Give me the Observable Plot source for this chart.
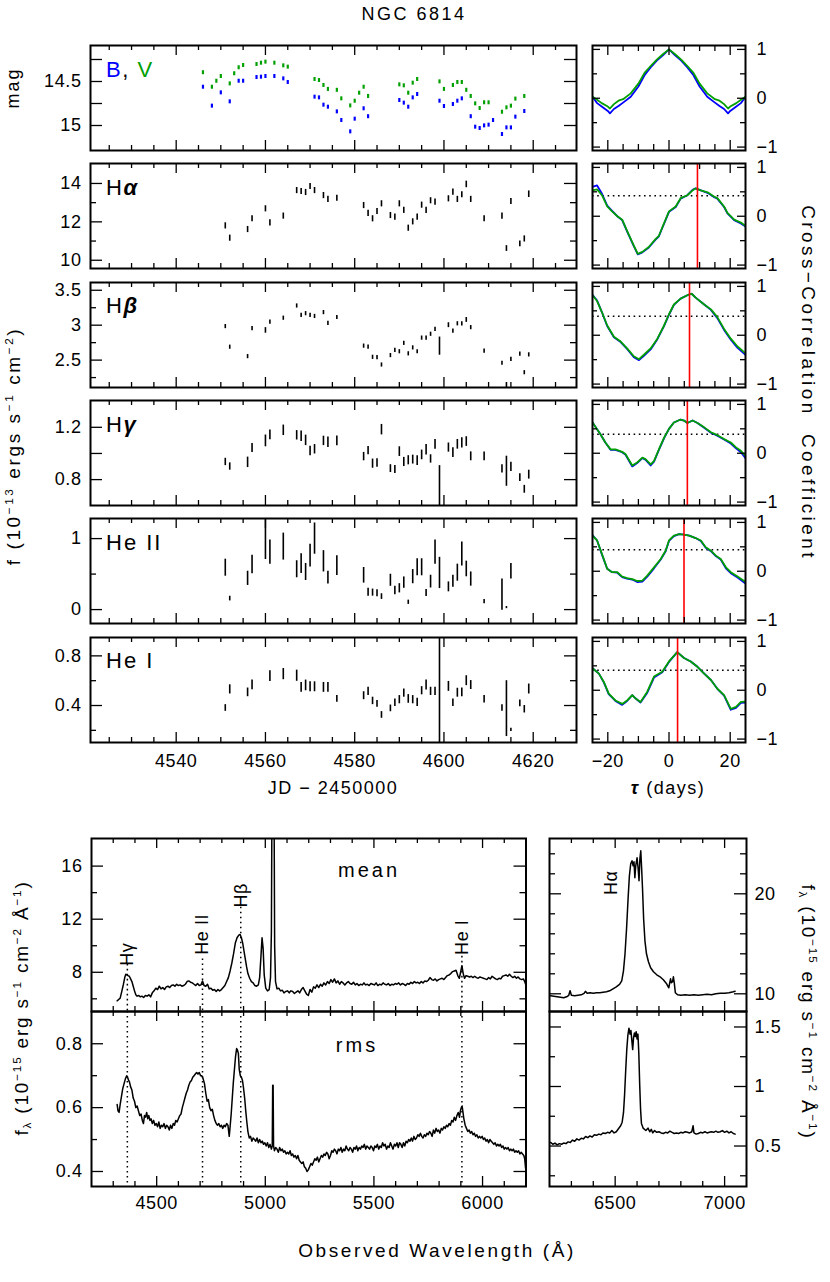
<!DOCTYPE html>
<html><head><meta charset="utf-8">
<script src="https://cdn.jsdelivr.net/npm/d3@7"></script>
<script src="https://cdn.jsdelivr.net/npm/@observablehq/plot@0.6"></script>
<style>
body{margin:0;background:#fff;}
#root{position:relative;width:830px;height:1282px;overflow:hidden;font-family:"Liberation Sans",Arial,sans-serif;color:#000;background:#fff;}
.t{position:absolute;white-space:nowrap;line-height:1;}
sup{font-size:0.62em;vertical-align:0.55em;}
sub{font-size:0.62em;vertical-align:-0.25em;}
</style></head><body><div id="root"></div>
<script>
// ---------------- DATA ----------------
const magV = [[4546,14.40],[4548,14.565],[4549,14.497],[4550,14.443],[4552,14.527],[4553,14.412],[4554,14.344],[4555,14.318],[4558,14.307],[4559,14.292],[4560,14.28],[4562,14.292],[4564,14.322],[4565,14.337],[4571,14.477],[4572,14.489],[4573,14.545],[4574,14.59],[4576,14.60],[4577,14.697],[4579,14.777],[4580,14.724],[4581,14.633],[4582,14.565],[4583,14.67],[4590,14.538],[4591,14.549],[4592,14.633],[4593,14.519],[4594,14.477],[4599,14.504],[4600,14.59],[4602,14.545],[4603,14.511],[4604,14.511],[4605,14.60],[4606,14.67],[4607,14.754],[4608,14.807],[4609,14.742],[4610,14.742],[4613,14.849],[4614,14.799],[4615,14.78],[4616,14.70],[4618,14.67]];
const magB = [[4546,14.565],[4548,14.78],[4550,14.629],[4552,14.731],[4554,14.497],[4555,14.497],[4558,14.455],[4559,14.451],[4560,14.443],[4562,14.443],[4564,14.47],[4565,14.511],[4571,14.678],[4572,14.686],[4573,14.769],[4574,14.792],[4576,14.845],[4577,14.943],[4579,15.072],[4580,14.928],[4582,14.81],[4583,14.90],[4590,14.716],[4591,14.746],[4592,14.792],[4593,14.686],[4594,14.648],[4599,14.724],[4600,14.784],[4602,14.761],[4603,14.724],[4604,14.697],[4606,14.90],[4607,15.019],[4608,15.034],[4609,15.004],[4610,14.996],[4611,14.943],[4613,15.102],[4614,15.027],[4615,15.027],[4616,14.905],[4618,14.841]];

// [JD-2450000, flux, error]
const lcHa = [[4551,11.79,0.16],[4552,11.15,0.16],[4556,11.6,0.16],[4557,12.16,0.16],[4560,12.68,0.16],[4561,11.95,0.16],[4564,12.3,0.16],[4567,13.63,0.16],[4568,13.58,0.16],[4569,13.53,0.16],[4570,13.84,0.16],[4571,13.63,0.16],[4573,13.37,0.16],[4574,13.17,0.16],[4576,13.23,0.16],[4582,12.85,0.16],[4583,12.44,0.16],[4584,12.16,0.16],[4585,12.54,0.16],[4586,12.94,0.16],[4588,12.33,0.16],[4589,12.25,0.16],[4590,12.94,0.16],[4591,12.6,0.16],[4592,11.67,0.16],[4593,12.0,0.16],[4594,12.25,0.16],[4595,12.87,0.16],[4596,12.6,0.16],[4597,13.1,0.16],[4598,13.03,0.16],[4601,13.2,0.16],[4602,13.55,0.16],[4603,13.17,0.16],[4604,13.41,0.16],[4605,13.95,0.17],[4606,13.17,0.16],[4609,12.16,0.16],[4613,12.3,0.16],[4614,10.61,0.15],[4615,13.06,0.16],[4617,10.85,0.15],[4618,11.11,0.16],[4619,13.44,0.17]];
const lcHb = [[4551,2.98,0.03],[4552,2.685,0.03],[4556,2.55,0.03],[4557,2.95,0.03],[4560,2.925,0.04],[4561,3.045,0.03],[4564,3.10,0.03],[4567,3.275,0.03],[4568,3.14,0.03],[4569,3.165,0.03],[4570,3.14,0.03],[4571,3.125,0.03],[4573,3.18,0.03],[4574,3.025,0.03],[4576,3.11,0.03],[4582,2.70,0.03],[4583,2.685,0.03],[4584,2.54,0.03],[4585,2.535,0.03],[4586,2.43,0.03],[4588,2.565,0.03],[4589,2.64,0.03],[4590,2.62,0.03],[4591,2.74,0.03],[4592,2.59,0.03],[4593,2.675,0.03],[4594,2.62,0.03],[4595,2.815,0.03],[4596,2.815,0.03],[4597,2.87,0.03],[4598,2.94,0.03],[4599,2.70,0.13],[4601,3.0,0.035],[4602,2.915,0.03],[4603,3.02,0.03],[4604,3.02,0.03],[4605,3.075,0.035],[4606,2.965,0.03],[4609,2.63,0.03],[4613,2.455,0.03],[4614,2.14,0.04],[4615,2.51,0.03],[4617,2.585,0.03],[4618,2.32,0.03],[4619,2.575,0.03]];
const lcHg = [[4551,0.935,0.028],[4552,0.90,0.028],[4556,0.932,0.04],[4557,1.042,0.035],[4560,1.096,0.045],[4561,1.142,0.038],[4564,1.177,0.04],[4567,1.139,0.036],[4568,1.131,0.04],[4569,1.10,0.04],[4570,1.019,0.036],[4571,1.032,0.036],[4573,1.096,0.036],[4574,1.085,0.04],[4576,1.096,0.037],[4582,0.976,0.032],[4583,1.022,0.032],[4584,0.922,0.035],[4585,0.927,0.032],[4586,1.182,0.04],[4588,0.884,0.03],[4589,0.877,0.03],[4590,1.014,0.037],[4591,0.935,0.035],[4592,0.948,0.035],[4593,0.953,0.034],[4594,0.945,0.038],[4595,0.989,0.037],[4596,1.029,0.04],[4597,0.958,0.032],[4598,1.07,0.037],[4599,0.754,0.153],[4601,1.045,0.035],[4602,1.007,0.037],[4603,1.07,0.037],[4604,1.081,0.04],[4605,1.091,0.037],[4606,0.978,0.034],[4609,0.978,0.034],[4613,0.882,0.032],[4614,0.864,0.115],[4615,0.897,0.035],[4617,0.815,0.03],[4618,0.726,0.03],[4619,0.838,0.034]];
const lcHeII = [[4551,0.59,0.12],[4552,0.155,0.033],[4556,0.44,0.10],[4557,0.634,0.13],[4560,0.995,0.29],[4561,0.81,0.17],[4564,0.887,0.19],[4567,0.568,0.12],[4568,0.648,0.14],[4569,0.53,0.12],[4570,0.76,0.16],[4571,1.0,0.22],[4573,0.68,0.15],[4574,0.45,0.09],[4576,0.62,0.14],[4582,0.483,0.11],[4583,0.244,0.055],[4584,0.239,0.05],[4585,0.23,0.05],[4586,0.183,0.04],[4588,0.413,0.085],[4589,0.268,0.06],[4590,0.30,0.065],[4591,0.38,0.08],[4592,0.103,0.03],[4593,0.464,0.10],[4594,0.596,0.12],[4595,0.596,0.12],[4596,0.234,0.05],[4597,0.394,0.09],[4598,0.81,0.17],[4599,0.516,0.22],[4601,0.32,0.07],[4602,0.40,0.085],[4603,0.52,0.12],[4604,0.783,0.17],[4605,0.572,0.11],[4606,0.43,0.10],[4609,0.113,0.03],[4613,0.21,0.22],[4614,0.028,0.015],[4615,0.54,0.11]];
const lcHeI = [[4551,0.38,0.027],[4552,0.53,0.037],[4556,0.506,0.035],[4557,0.567,0.039],[4561,0.637,0.043],[4564,0.653,0.045],[4567,0.64,0.045],[4568,0.546,0.04],[4569,0.562,0.043],[4570,0.551,0.04],[4571,0.551,0.04],[4573,0.546,0.04],[4574,0.546,0.04],[4576,0.453,0.027],[4582,0.479,0.032],[4583,0.514,0.033],[4584,0.437,0.03],[4585,0.413,0.027],[4586,0.324,0.027],[4588,0.377,0.027],[4589,0.423,0.03],[4590,0.447,0.033],[4591,0.50,0.033],[4592,0.453,0.035],[4593,0.447,0.033],[4594,0.425,0.033],[4595,0.519,0.033],[4596,0.565,0.04],[4597,0.514,0.033],[4598,0.514,0.033],[4599,0.52,0.6],[4601,0.554,0.04],[4602,0.423,0.03],[4603,0.503,0.036],[4604,0.506,0.035],[4605,0.60,0.04],[4606,0.565,0.036],[4609,0.45,0.03],[4613,0.38,0.027],[4614,0.375,0.225],[4615,0.204,0.013],[4617,0.417,0.027],[4618,0.37,0.03],[4619,0.533,0.04]];

// [lag (days), r (B or blue), r (V or green)]
const acfBV = [[-25,0.03,0.03],[-23.5,-0.10,-0.03],[-22,-0.17,-0.10],[-20,-0.26,-0.17],[-19.3,-0.31,-0.21],[-18,-0.22,-0.12],[-16.5,-0.16,-0.05],[-15,-0.09,-0.02],[-12.5,0.03,0.10],[-10,0.24,0.30],[-8,0.47,0.52],[-6,0.63,0.66],[-4,0.77,0.79],[-2,0.88,0.90],[0,1.0,1.0],[2,0.88,0.90],[4,0.77,0.79],[6,0.63,0.66],[8,0.47,0.52],[10,0.24,0.30],[12.5,0.03,0.10],[15,-0.09,-0.02],[16.5,-0.16,-0.05],[18,-0.22,-0.12],[19.3,-0.31,-0.21],[20,-0.26,-0.17],[22,-0.17,-0.10],[23.5,-0.10,-0.03],[25,0.03,0.03]];
const ccfHa = [[-25,0.60,0.53],[-23.5,0.63,0.55],[-21.9,0.46,0.43],[-20.2,0.22,0.20],[-18.6,0.11,0.10],[-16.9,0.00,0.00],[-15.3,-0.08,-0.07],[-13.7,-0.31,-0.30],[-11.5,-0.61,-0.60],[-10.2,-0.78,-0.77],[-8.7,-0.74,-0.73],[-6.6,-0.64,-0.63],[-4.4,-0.48,-0.47],[-3.3,-0.41,-0.40],[-2.2,-0.24,-0.23],[0,0.09,0.10],[2.2,0.19,0.20],[3.8,0.36,0.37],[6.0,0.43,0.43],[7.7,0.54,0.53],[8.7,0.57,0.57],[10.4,0.53,0.53],[12.6,0.48,0.49],[14.8,0.39,0.40],[15.8,0.36,0.37],[18.0,0.19,0.20],[19.1,0.06,0.07],[21.3,-0.08,-0.07],[23.5,-0.15,-0.13],[25,-0.21,-0.20]];
const ccfHb = [[-25,0.83,0.82],[-23.5,0.71,0.70],[-21.9,0.47,0.47],[-20.2,0.19,0.20],[-18,-0.04,-0.03],[-15.8,-0.14,-0.13],[-13.7,-0.28,-0.27],[-11.5,-0.45,-0.43],[-9.8,-0.51,-0.49],[-8.2,-0.42,-0.40],[-6,-0.29,-0.27],[-3.8,-0.08,-0.07],[-1.6,0.19,0.20],[0,0.42,0.43],[1.6,0.62,0.63],[3.8,0.75,0.75],[6,0.82,0.82],[7.4,0.85,0.85],[8.7,0.77,0.77],[11.5,0.63,0.63],[13.7,0.52,0.53],[15.8,0.35,0.37],[18,0.11,0.13],[20.2,-0.09,-0.07],[22.4,-0.26,-0.23],[25,-0.40,-0.37]];
const ccfHg = [[-25,0.63,0.63],[-22.4,0.39,0.39],[-20.8,0.22,0.22],[-19.1,0.07,0.08],[-17.5,0.07,0.08],[-15.3,0.02,0.03],[-14.2,-0.03,-0.02],[-12.0,-0.27,-0.25],[-10.4,-0.20,-0.19],[-8.7,-0.10,-0.09],[-7.7,-0.13,-0.12],[-6.0,-0.25,-0.23],[-4.9,-0.17,-0.16],[-3.3,0.07,0.08],[-1.6,0.31,0.32],[0,0.50,0.50],[1.6,0.63,0.63],[3.8,0.69,0.69],[4.9,0.67,0.67],[6.0,0.62,0.62],[7.7,0.67,0.67],[9.3,0.62,0.62],[11.5,0.52,0.53],[13.7,0.42,0.43],[15.8,0.36,0.37],[18.0,0.28,0.29],[20.2,0.20,0.22],[21.9,0.10,0.12],[23.5,0.02,0.05],[25,-0.10,-0.06]];
const ccfHeII = [[-25,0.74,0.73],[-23.5,0.63,0.63],[-21.9,0.34,0.35],[-20.2,0.05,0.05],[-18.6,-0.02,-0.02],[-16.9,-0.03,-0.02],[-15.3,-0.12,-0.11],[-13.7,-0.15,-0.14],[-12,-0.17,-0.16],[-10.4,-0.22,-0.20],[-8.7,-0.21,-0.19],[-7.1,-0.11,-0.09],[-4.9,0.06,0.08],[-2.7,0.24,0.25],[-1.1,0.41,0.42],[0,0.62,0.63],[1.6,0.72,0.73],[3.3,0.76,0.76],[4.9,0.75,0.75],[6.6,0.73,0.73],[8.7,0.68,0.68],[10.4,0.62,0.63],[12,0.48,0.49],[13.7,0.41,0.42],[15.3,0.31,0.32],[16.9,0.24,0.25],[18.6,0.06,0.08],[20.2,-0.04,-0.02],[22.4,-0.13,-0.11],[25,-0.25,-0.22]];
const ccfHeI = [[-25,0.45,0.45],[-22.9,0.34,0.34],[-21.3,0.16,0.17],[-19.7,-0.08,-0.07],[-17.5,-0.22,-0.21],[-15.3,-0.30,-0.28],[-13.7,-0.22,-0.21],[-12,-0.10,-0.10],[-10.9,-0.17,-0.17],[-9.3,-0.25,-0.24],[-7.1,-0.05,-0.03],[-4.9,0.26,0.28],[-2.2,0.37,0.38],[0,0.58,0.59],[2.7,0.78,0.78],[4.9,0.66,0.66],[7.1,0.59,0.59],[9.3,0.48,0.48],[11.5,0.34,0.34],[13.7,0.21,0.21],[15.8,0.03,0.03],[18,-0.11,-0.10],[20.2,-0.40,-0.38],[21.9,-0.36,-0.34],[23.5,-0.26,-0.24],[25,-0.25,-0.23]];
// CCF centroid lags (red lines) and 0.8 r_max thresholds (dotted lines): Hα, Hβ, Hγ, He II, He I
const lagCent = [9.3, 6.7, 6.0, 4.9, 2.8];
const rThresh = [0.42, 0.39, 0.39, 0.44, 0.41];

// spectra: [observed wavelength (Å), flux]
const meanSpec = [[4318,5.85],[4325,5.95],[4332,6.05],[4340,6.6],[4347,7.1],[4353,7.6],[4358,7.85],[4363,7.8],[4368,7.75],[4374,7.7],[4380,7.5],[4386,7.3],[4392,6.95],[4398,6.6],[4404,6.3],[4410,6.2],[4418,6.25],[4425,6.15],[4432,6.2],[4440,6.1],[4448,6.25],[4456,6.2],[4464,6.3],[4472,6.15],[4480,6.45],[4488,6.6],[4496,6.8],[4504,6.7],[4512,6.95],[4520,6.75],[4528,6.85],[4536,6.7],[4544,6.9],[4552,6.95],[4560,6.85],[4568,7.0],[4576,7.05],[4584,6.95],[4592,7.1],[4600,7.0],[4608,7.05],[4616,6.95],[4624,7.0],[4632,7.1],[4640,7.3],[4648,7.35],[4656,7.25],[4664,7.2],[4672,7.1],[4680,7.0],[4688,7.15],[4696,7.0],[4704,7.05],[4711,7.35],[4718,7.0],[4726,6.95],[4734,7.1],[4742,6.75],[4750,6.8],[4758,6.65],[4766,6.7],[4774,6.55],[4782,6.7],[4790,6.6],[4798,6.7],[4806,6.85],[4814,7.0],[4822,7.3],[4830,7.6],[4838,8.1],[4846,8.7],[4854,9.4],[4862,10.2],[4870,10.6],[4878,10.8],[4884,10.85],[4890,10.6],[4896,10.2],[4902,9.6],[4908,9.0],[4914,8.4],[4920,7.9],[4928,7.55],[4936,7.3],[4944,7.2],[4952,7.0],[4960,6.95],[4968,7.05],[4974,7.6],[4980,9.2],[4985,10.6],[4990,9.8],[4995,7.8],[5002,6.8],[5010,6.6],[5018,6.7],[5024,7.6],[5028,11],[5031,22],[5034,40],[5037,40],[5040,22],[5043,10],[5047,7.3],[5054,6.75],[5062,6.8],[5070,6.6],[5078,6.65],[5086,6.45],[5094,6.55],[5102,6.6],[5110,6.45],[5118,6.6],[5126,6.55],[5134,6.4],[5142,6.5],[5150,6.6],[5158,6.45],[5166,6.7],[5174,6.85],[5182,6.6],[5190,6.35],[5198,6.25],[5206,6.7],[5214,6.5],[5222,6.9],[5230,6.8],[5238,7.05],[5246,6.85],[5254,7.1],[5262,6.95],[5270,7.2],[5278,7.05],[5286,7.3],[5294,7.15],[5302,7.45],[5310,7.25],[5318,7.5],[5326,7.2],[5334,7.35],[5342,7.1],[5350,7.3],[5358,7.2],[5366,7.05],[5374,7.2],[5382,7.3],[5390,7.15],[5398,7.1],[5406,7.25],[5414,7.05],[5422,7.15],[5430,7.0],[5438,7.1],[5446,7.05],[5454,7.2],[5462,7.05],[5470,7.1],[5478,7.0],[5486,7.15],[5494,7.1],[5502,7.05],[5510,7.2],[5518,7.0],[5526,7.1],[5534,7.05],[5542,7.2],[5550,7.1],[5558,7.05],[5566,7.15],[5574,7.0],[5582,7.1],[5590,7.05],[5598,7.15],[5606,7.1],[5614,7.2],[5622,7.05],[5630,7.15],[5638,7.1],[5646,7.0],[5654,7.15],[5662,7.1],[5670,7.25],[5678,7.15],[5686,7.3],[5694,7.2],[5702,7.25],[5710,7.15],[5718,7.3],[5726,7.2],[5734,7.35],[5742,7.3],[5750,7.4],[5758,7.6],[5766,7.45],[5774,7.4],[5782,7.5],[5790,7.35],[5798,7.45],[5806,7.5],[5814,7.55],[5822,7.45],[5830,7.6],[5838,7.75],[5846,7.8],[5854,7.9],[5862,8.05],[5870,8.1],[5878,8.15],[5886,7.75],[5893,7.55],[5899,8.0],[5905,8.5],[5911,7.9],[5917,7.55],[5924,7.75],[5932,7.7],[5940,7.65],[5948,7.7],[5956,7.6],[5964,7.7],[5972,7.6],[5980,7.55],[5988,7.65],[5996,7.6],[6004,7.55],[6012,7.5],[6020,7.45],[6028,7.6],[6036,7.5],[6044,7.7],[6052,7.6],[6060,7.5],[6068,7.45],[6076,7.55],[6084,7.5],[6092,7.7],[6100,7.75],[6108,7.8],[6116,7.7],[6124,7.85],[6132,7.7],[6140,7.6],[6148,7.7],[6156,7.55],[6164,7.65],[6172,7.5],[6180,7.45],[6188,7.5],[6194,7.3],[6199,7.05]];
const rmsSpec = [[4318,0.61],[4322,0.59],[4327,0.585],[4332,0.61],[4338,0.635],[4344,0.66],[4350,0.675],[4356,0.69],[4362,0.70],[4366,0.695],[4371,0.685],[4375,0.68],[4380,0.665],[4386,0.655],[4392,0.63],[4398,0.62],[4404,0.60],[4410,0.605],[4416,0.59],[4422,0.575],[4428,0.58],[4434,0.56],[4439,0.55],[4444,0.575],[4449,0.57],[4454,0.585],[4459,0.565],[4464,0.575],[4469,0.56],[4474,0.565],[4480,0.55],[4486,0.56],[4492,0.545],[4498,0.55],[4504,0.54],[4510,0.555],[4516,0.535],[4522,0.545],[4528,0.54],[4534,0.55],[4540,0.535],[4546,0.545],[4552,0.54],[4558,0.53],[4564,0.545],[4570,0.535],[4576,0.55],[4582,0.545],[4588,0.56],[4594,0.555],[4600,0.565],[4606,0.575],[4612,0.58],[4618,0.60],[4624,0.615],[4630,0.63],[4636,0.645],[4642,0.655],[4648,0.67],[4654,0.68],[4660,0.685],[4666,0.695],[4672,0.70],[4678,0.705],[4684,0.71],[4690,0.705],[4696,0.71],[4702,0.70],[4708,0.70],[4714,0.69],[4720,0.675],[4726,0.645],[4732,0.62],[4738,0.625],[4744,0.60],[4750,0.59],[4756,0.595],[4762,0.575],[4768,0.56],[4774,0.55],[4780,0.545],[4786,0.55],[4792,0.54],[4798,0.545],[4804,0.535],[4810,0.545],[4816,0.54],[4822,0.55],[4828,0.545],[4834,0.51],[4838,0.54],[4843,0.58],[4848,0.63],[4853,0.68],[4858,0.72],[4863,0.76],[4868,0.785],[4872,0.78],[4876,0.77],[4880,0.72],[4885,0.70],[4890,0.695],[4895,0.685],[4900,0.66],[4905,0.63],[4910,0.59],[4915,0.555],[4920,0.525],[4926,0.505],[4932,0.51],[4938,0.495],[4944,0.505],[4950,0.50],[4956,0.495],[4962,0.505],[4968,0.49],[4974,0.50],[4980,0.49],[4986,0.495],[4992,0.485],[4998,0.49],[5004,0.48],[5010,0.49],[5016,0.475],[5022,0.485],[5028,0.47],[5032,0.48],[5034,0.67],[5036,0.67],[5038,0.48],[5042,0.465],[5048,0.475],[5054,0.47],[5060,0.46],[5066,0.475],[5072,0.465],[5078,0.47],[5084,0.46],[5090,0.465],[5096,0.455],[5102,0.46],[5108,0.455],[5114,0.465],[5120,0.45],[5126,0.455],[5132,0.445],[5138,0.45],[5144,0.44],[5150,0.45],[5156,0.435],[5162,0.43],[5168,0.425],[5174,0.43],[5180,0.415],[5186,0.41],[5192,0.40],[5198,0.405],[5204,0.415],[5210,0.425],[5216,0.42],[5222,0.43],[5228,0.44],[5234,0.435],[5240,0.445],[5246,0.43],[5252,0.44],[5258,0.45],[5264,0.445],[5270,0.455],[5276,0.45],[5282,0.46],[5288,0.455],[5294,0.44],[5300,0.45],[5306,0.465],[5312,0.46],[5318,0.47],[5324,0.465],[5330,0.455],[5336,0.47],[5342,0.465],[5348,0.475],[5354,0.46],[5360,0.47],[5366,0.465],[5372,0.48],[5378,0.47],[5384,0.465],[5390,0.475],[5396,0.47],[5402,0.46],[5408,0.475],[5414,0.47],[5420,0.48],[5426,0.465],[5432,0.475],[5438,0.47],[5444,0.48],[5450,0.475],[5456,0.485],[5462,0.47],[5468,0.48],[5474,0.475],[5480,0.47],[5486,0.48],[5492,0.475],[5498,0.465],[5504,0.48],[5510,0.475],[5516,0.485],[5522,0.47],[5528,0.48],[5534,0.475],[5540,0.49],[5546,0.48],[5552,0.485],[5558,0.47],[5564,0.48],[5570,0.475],[5576,0.49],[5582,0.48],[5588,0.47],[5594,0.485],[5600,0.48],[5606,0.49],[5612,0.475],[5618,0.49],[5624,0.485],[5630,0.475],[5636,0.49],[5642,0.48],[5648,0.495],[5654,0.49],[5660,0.50],[5666,0.495],[5672,0.505],[5678,0.495],[5684,0.51],[5690,0.50],[5696,0.505],[5702,0.515],[5708,0.51],[5714,0.52],[5720,0.51],[5726,0.505],[5732,0.515],[5738,0.51],[5744,0.52],[5750,0.515],[5756,0.525],[5762,0.52],[5768,0.51],[5774,0.53],[5780,0.52],[5786,0.535],[5792,0.525],[5798,0.53],[5804,0.52],[5810,0.535],[5816,0.53],[5822,0.54],[5828,0.535],[5834,0.545],[5840,0.54],[5846,0.55],[5852,0.545],[5858,0.56],[5864,0.555],[5870,0.57],[5876,0.56],[5882,0.575],[5888,0.585],[5894,0.57],[5898,0.59],[5902,0.60],[5906,0.605],[5910,0.585],[5914,0.565],[5920,0.545],[5926,0.535],[5932,0.525],[5938,0.53],[5944,0.52],[5950,0.525],[5956,0.515],[5962,0.52],[5968,0.51],[5974,0.515],[5980,0.505],[5986,0.51],[5992,0.505],[5998,0.51],[6004,0.50],[6010,0.505],[6016,0.495],[6022,0.50],[6028,0.49],[6034,0.50],[6040,0.495],[6046,0.49],[6052,0.485],[6058,0.49],[6064,0.48],[6070,0.485],[6076,0.48],[6082,0.485],[6088,0.475],[6094,0.48],[6100,0.47],[6106,0.475],[6112,0.47],[6118,0.475],[6124,0.465],[6130,0.47],[6136,0.465],[6142,0.47],[6148,0.46],[6154,0.465],[6160,0.46],[6166,0.465],[6172,0.455],[6178,0.46],[6184,0.455],[6190,0.45],[6194,0.44],[6198,0.41]];
const meanHa = [[6205,9.8],[6220,9.75],[6235,9.7],[6250,9.65],[6265,9.6],[6278,9.7],[6288,9.85],[6294,10.3],[6300,9.85],[6315,9.8],[6330,9.85],[6345,9.9],[6358,10.05],[6364,10.25],[6372,10.05],[6385,10.1],[6400,10.05],[6415,10.1],[6430,10.1],[6445,10.15],[6460,10.2],[6475,10.3],[6490,10.5],[6505,10.7],[6520,10.95],[6530,11.3],[6538,12.3],[6545,14.0],[6552,16.5],[6559,19.5],[6565,21.8],[6571,23.0],[6577,23.3],[6582,22.8],[6586,23.2],[6590,21.6],[6594,22.8],[6600,23.6],[6605,22.5],[6609,21.3],[6613,23.5],[6617,24.3],[6621,22.5],[6625,20.5],[6630,17.5],[6636,15.3],[6643,14.0],[6652,13.2],[6662,12.6],[6675,12.2],[6690,11.9],[6705,11.7],[6720,11.4],[6735,11.0],[6745,10.6],[6750,11.2],[6753,11.5],[6757,11.1],[6762,11.2],[6766,11.7],[6770,11.1],[6775,10.1],[6785,9.9],[6800,9.85],[6820,9.9],[6840,9.85],[6860,9.9],[6880,9.85],[6900,9.9],[6920,9.95],[6940,9.9],[6960,10.0],[6980,10.05],[7000,10.05],[7020,10.1],[7040,10.2],[7048,10.25]];
const rmsHa = [[6205,0.53],[6215,0.515],[6225,0.525],[6235,0.51],[6245,0.52],[6255,0.515],[6265,0.525],[6275,0.52],[6285,0.535],[6295,0.53],[6305,0.55],[6315,0.54],[6325,0.56],[6335,0.55],[6345,0.565],[6355,0.56],[6365,0.58],[6375,0.57],[6385,0.585],[6395,0.575],[6405,0.595],[6415,0.59],[6425,0.60],[6435,0.595],[6445,0.61],[6455,0.605],[6465,0.615],[6475,0.61],[6485,0.63],[6495,0.61],[6505,0.62],[6515,0.645],[6525,0.67],[6532,0.70],[6538,0.78],[6543,0.93],[6548,1.13],[6553,1.31],[6558,1.43],[6563,1.49],[6568,1.44],[6572,1.47],[6576,1.39],[6580,1.31],[6584,1.41],[6588,1.45],[6592,1.42],[6596,1.46],[6600,1.40],[6604,1.44],[6608,1.28],[6612,1.02],[6616,0.81],[6620,0.69],[6628,0.65],[6640,0.63],[6650,0.65],[6658,0.62],[6665,0.64],[6672,0.61],[6680,0.63],[6690,0.615],[6700,0.62],[6710,0.61],[6720,0.605],[6730,0.615],[6740,0.61],[6750,0.625],[6760,0.615],[6770,0.605],[6780,0.61],[6790,0.605],[6800,0.615],[6810,0.61],[6820,0.62],[6830,0.615],[6840,0.61],[6850,0.62],[6856,0.67],[6860,0.61],[6870,0.60],[6880,0.605],[6890,0.615],[6900,0.61],[6910,0.62],[6920,0.61],[6930,0.615],[6940,0.62],[6950,0.615],[6960,0.625],[6970,0.615],[6980,0.62],[6990,0.63],[7000,0.615],[7010,0.625],[7020,0.61],[7030,0.62],[7040,0.605],[7048,0.60]];
// emission line marks: name, observed wavelength, label flux level, dotted-line start level
const lineNames = ["H\u03b3", "He II", "H\u03b2", "He I"];
const lineWave = [4365, 4711, 4887, 5905];
const lineLabelF = [9.36, 10.86, 13.8, 10.64];
const lineDotTop = [8.6, 9.0, 12.9, 9.2];

// ---------------- DRAWING ----------------
const BLUE = "#0000ff", GREEN = "#00a000", RED = "#ff0000";
const FONT = "'Liberation Sans', Arial, sans-serif";
const FS = 18;
const root = document.getElementById("root");
const fmt = d => d < 0 ? "\u2212" + String(-d) : String(d);

function panel(o) {
  const {left, top, w, h} = o;
  const ml = o.ml ?? 3, mr = o.mr ?? 3, mt = o.mt ?? 3, mb = o.mb ?? 3;
  const xL = o.xLen ?? [10, 5], yL = o.yLen ?? [12, 6];
  const sw = 1.3;
  const m = [...(o.marks || [])];
  const tx = (a, len) => [Plot.ruleX(a, {insetTop: h - len, strokeWidth: sw}), Plot.ruleX(a, {insetBottom: h - len, strokeWidth: sw})];
  const ty = (a, len) => [Plot.ruleY(a, {insetRight: w - len, strokeWidth: sw}), Plot.ruleY(a, {insetLeft: w - len, strokeWidth: sw})];
  if (o.xMajor) m.push(...tx(o.xMajor, xL[0]));
  if (o.xMinor) m.push(...tx(o.xMinor, xL[1]));
  if (o.yMajor) m.push(...ty(o.yMajor, yL[0]));
  if (o.yMinor) m.push(...ty(o.yMinor, yL[1]));
  m.push(Plot.frame({strokeWidth: 2}));
  if (o.xLabels) m.push(Plot.axisX({ticks: o.xLabels, anchor: "bottom", tickSize: 0, tickPadding: o.xPad ?? 12, label: null, fontSize: FS, tickFormat: fmt}));
  if (o.yLabelsL) m.push(Plot.axisY({ticks: o.yLabelsL, anchor: "left", tickSize: 0, tickPadding: o.yPad ?? 9, label: null, fontSize: FS, tickFormat: fmt}));
  if (o.yLabelsR) m.push(Plot.axisY({ticks: o.yLabelsR, anchor: "right", tickSize: 0, tickPadding: o.yPad ?? 9, label: null, fontSize: FS, tickFormat: fmt}));
  const svg = Plot.plot({
    width: w + ml + mr, height: h + mt + mb,
    marginLeft: ml, marginRight: mr, marginTop: mt, marginBottom: mb,
    x: Object.assign({domain: o.xd}, o.xLabels ? {} : {axis: null}),
    y: Object.assign({domain: o.yd, reverse: !!o.yRev}, (o.yLabelsL || o.yLabelsR) ? {} : {axis: null}),
    style: {fontFamily: FONT, fontSize: FS + "px", letterSpacing: "0.6px", background: "transparent", overflow: "visible", color: "black"},
    marks: m
  });
  Object.assign(svg.style, {position: "absolute", left: (left - ml) + "px", top: (top - mt) + "px"});
  root.appendChild(svg);
}

function txt(html, x, y, {size = 18, rot = 0, anchor = "middle", ls = 0} = {}) {
  const d = document.createElement("div");
  d.className = "t";
  d.innerHTML = html;
  d.style.left = x + "px"; d.style.top = y + "px";
  d.style.fontSize = size + "px"; d.style.letterSpacing = ls + "px";
  d.style.transform = `translate(${anchor === "start" ? "0" : "-50%"}, -50%) rotate(${rot}deg)`;
  root.appendChild(d);
}

// ----- top section: light curves -----
const ROW_TOP = [45, 163.3, 281.6, 399.9, 518.2, 636.5], ROW_H = 105;
const LC_LEFT = 90, LC_W = 486, LC_XD = [4520.8, 4629.7];
const jdMajor = [4540, 4560, 4580, 4600, 4620];
const jdMinor = [4525, 4530, 4535, 4545, 4550, 4555, 4565, 4570, 4575, 4585, 4590, 4595, 4605, 4610, 4615, 4625];

panel({left: LC_LEFT, top: ROW_TOP[0], w: LC_W, h: ROW_H, xd: LC_XD, yd: [14.091, 15.284], yRev: true, ml: 70,
  xMajor: jdMajor, xMinor: jdMinor, yMajor: [14.25, 14.5, 14.75, 15], yLabelsL: [14.5, 15],
  marks: [
    Plot.ruleX(magB, {x: d => d[0], y1: d => d[1], y2: d => d[1], insetTop: -2, insetBottom: -2, stroke: BLUE, strokeWidth: 2.2}),
    Plot.ruleX(magV, {x: d => d[0], y1: d => d[1], y2: d => d[1], insetTop: -2, insetBottom: -2, stroke: GREEN, strokeWidth: 2.2})
  ]});

const lcs = [
  {d: lcHa, yd: [9.57, 15.04], maj: [10, 12, 14], min: [11, 13], lab: [10, 12, 14]},
  {d: lcHb, yd: [2.108, 3.611], maj: [2.5, 3, 3.5], min: [2.25, 2.75, 3.25], lab: [2.5, 3, 3.5]},
  {d: lcHg, yd: [0.602, 1.405], maj: [0.8, 1, 1.2], min: [], lab: [0.8, 1.2]},
  {d: lcHeII, yd: [-0.196, 1.283], maj: [0, 1], min: [0.5], lab: [0, 1]},
  {d: lcHeI, yd: [0.102, 0.948], maj: [0.4, 0.8], min: [0.2, 0.6], lab: [0.4, 0.8]}
];
lcs.forEach((c, i) => {
  const last = i === lcs.length - 1;
  panel({left: LC_LEFT, top: ROW_TOP[i + 1], w: LC_W, h: ROW_H, xd: LC_XD, yd: c.yd, ml: 70, mb: last ? 40 : 3,
    xMajor: jdMajor, xMinor: jdMinor, yMajor: c.maj, yMinor: c.min, yLabelsL: c.lab,
    xLabels: last ? jdMajor : null, xPad: 12,
    marks: [Plot.ruleX(c.d, {x: d => d[0], y1: d => d[1] - d[2], y2: d => d[1] + d[2], strokeWidth: 1.6, clip: true})]});
});

// ----- top section: CCFs -----
const CC_LEFT = 592, CC_W = 153, CC_XD = [-25, 25], CC_YD = [-1.07, 1.08];
const ccBase = {w: CC_W, h: ROW_H, xd: CC_XD, yd: CC_YD, left: CC_LEFT, mr: 40,
  xMajor: [-20, 0, 20], xMinor: [-15, -10, -5, 5, 10, 15], yMajor: [-1, 0, 1], yMinor: [-0.5, 0.5],
  xLen: [10, 6], yLen: [8, 5], yLabelsR: [-1, 0, 1], yPad: 11};
panel({...ccBase, top: ROW_TOP[0], marks: [
  Plot.line(acfBV, {x: d => d[0], y: d => d[1], stroke: BLUE, strokeWidth: 1.8, clip: true}),
  Plot.line(acfBV, {x: d => d[0], y: d => d[2], stroke: GREEN, strokeWidth: 1.8, clip: true})
]});
[ccfHa, ccfHb, ccfHg, ccfHeII, ccfHeI].forEach((c, i) => {
  const last = i === 4;
  panel({...ccBase, top: ROW_TOP[i + 1], mb: last ? 40 : 3, xLabels: last ? [-20, 0, 20] : null, xPad: 12, marks: [
    Plot.ruleY([rThresh[i]], {strokeDasharray: "1.6,3.6", strokeWidth: 1.6}),
    Plot.line(c, {x: d => d[0], y: d => d[1], stroke: BLUE, strokeWidth: 1.8, clip: true}),
    Plot.line(c, {x: d => d[0], y: d => d[2], stroke: GREEN, strokeWidth: 1.8, clip: true}),
    Plot.ruleX([lagCent[i]], {stroke: RED, strokeWidth: 1.6})
  ]});
});

// ----- bottom section: spectra -----
const SP_LEFT = 90.5, SP_W = 434.5, SP_XD = [4200, 6200];
const spMajor = [4500, 5000, 5500, 6000];
const spMinor = [4300, 4400, 4600, 4700, 4800, 4900, 5100, 5200, 5300, 5400, 5600, 5700, 5800, 5900, 6100];
const lineIdx = lineWave.map((w, i) => i);
panel({left: SP_LEFT, top: 838, w: SP_W, h: 173, xd: SP_XD, yd: [5.045, 18.08], ml: 70,
  xMajor: spMajor, xMinor: spMinor, yMajor: [8, 12, 16], yMinor: [6, 10, 14], yLabelsL: [8, 12, 16],
  marks: [
    Plot.ruleX(lineIdx, {x: i => lineWave[i], y1: i => lineDotTop[i], y2: 5.045, strokeDasharray: "1.6,3.4", strokeWidth: 1.5}),
    Plot.line(meanSpec, {x: d => d[0], y: d => d[1], strokeWidth: 1.5, clip: true}),
    Plot.text(lineIdx, {x: i => lineWave[i], y: i => lineLabelF[i], text: i => lineNames[i], rotate: -90, fontSize: 18, fill: "black"})
  ]});
panel({left: SP_LEFT, top: 1011, w: SP_W, h: 175, xd: SP_XD, yd: [0.353, 0.901], ml: 70, mb: 40,
  xMajor: spMajor, xMinor: spMinor, yMajor: [0.4, 0.6, 0.8], yMinor: [0.5, 0.7], yLabelsL: [0.4, 0.6, 0.8],
  xLabels: spMajor, xPad: 10,
  marks: [
    Plot.ruleX(lineWave, {strokeDasharray: "1.6,3.4", strokeWidth: 1.5}),
    Plot.line(rmsSpec, {x: d => d[0], y: d => d[1], strokeWidth: 1.5, clip: true})
  ]});
const HA_LEFT = 549, HA_W = 197, HA_XD = [6200, 7100];
const haMajor = [6500, 7000], haMinor = [6300, 6400, 6600, 6700, 6800, 6900];
panel({left: HA_LEFT, top: 838, w: HA_W, h: 173, xd: HA_XD, yd: [8.23, 25.53], mr: 45,
  xMajor: haMajor, xMinor: haMinor, yMajor: [10, 20], yMinor: [12, 14, 16, 18, 22, 24], yLabelsR: [10, 20], yPad: 8,
  marks: [
    Plot.line(meanHa, {x: d => d[0], y: d => d[1], strokeWidth: 1.5, clip: true}),
    Plot.text(["H\u03b1"], {x: 6483, y: 21.1, rotate: -90, fontSize: 18, fill: "black"})
  ]});
panel({left: HA_LEFT, top: 1011, w: HA_W, h: 175, xd: HA_XD, yd: [0.16, 1.63], mr: 45, mb: 40,
  xMajor: haMajor, xMinor: haMinor, yMajor: [0.5, 1, 1.5], yMinor: [0.25, 0.75, 1.25], yLabelsR: [0.5, 1, 1.5], yPad: 8,
  xLabels: haMajor, xPad: 10,
  marks: [Plot.line(rmsHa, {x: d => d[0], y: d => d[1], strokeWidth: 1.5, clip: true})]});

// ----- text -----
txt("NGC 6814", 414, 14, {size: 18, ls: 2.5});
txt("mag", 13, 88, {rot: -90, ls: 2});
txt("f (10<sup>\u221213</sup> ergs s<sup>\u22121</sup> cm<sup>\u22122</sup>)", 13, 446, {size: 19, rot: -90, ls: 2.6});
txt("Cross\u2212Correlation&nbsp; Coefficient", 808, 383, {size: 19, rot: 90, ls: 3.4});
txt("JD \u2212 2450000", 333, 788, {ls: 1.5});
txt("<i><b>\u03c4</b></i> (days)", 668, 788, {ls: 1.5});
txt('<span style="color:#0000ff">B</span>, <span style="color:#00a000">V</span>', 106, 70, {size: 22, anchor: "start", ls: 1.5});
txt("H<i><b>\u03b1</b></i>", 106, 188, {size: 22, anchor: "start", ls: 1.5});
txt("H<i><b>\u03b2</b></i>", 106, 306, {size: 22, anchor: "start", ls: 1.5});
txt("H<i><b>\u03b3</b></i>", 106, 425, {size: 22, anchor: "start", ls: 1.5});
txt("He II", 106, 543, {size: 22, anchor: "start", ls: 2});
txt("He I", 106, 661, {size: 22, anchor: "start", ls: 2});
txt("mean", 369, 870, {size: 20, ls: 3});
txt("rms", 357, 1045, {size: 20, ls: 3});
txt("f<sub>\u03bb</sub> (10<sup>\u221215</sup> erg s<sup>\u22121</sup> cm<sup>\u22122</sup> \u00c5<sup>\u22121</sup>)", 22, 1008, {size: 19, rot: -90, ls: 1.8});
txt("f<sub>\u03bb</sub> (10<sup>\u221215</sup> erg s<sup>\u22121</sup> cm<sup>\u22122</sup> \u00c5<sup>\u22121</sup>)", 808, 1012, {size: 19, rot: 90, ls: 1.8});
txt("Observed Wavelength (\u00c5)", 437, 1250, {size: 19, ls: 2.6});
</script></body></html>
